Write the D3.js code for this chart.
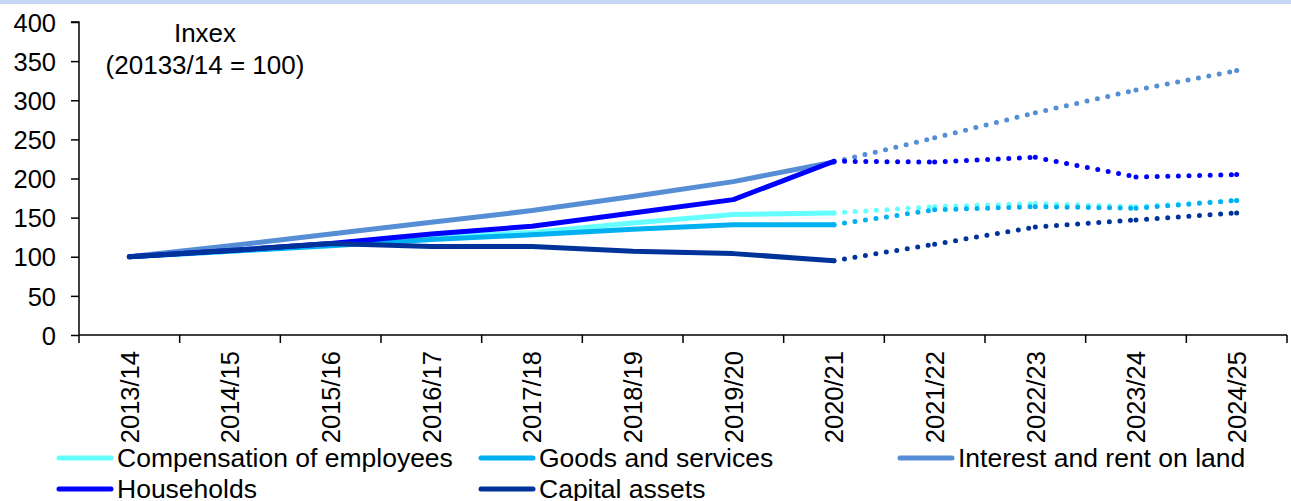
<!DOCTYPE html>
<html><head><meta charset="utf-8">
<script src="https://cdn.jsdelivr.net/npm/d3@7"></script>
<style>
html,body{margin:0;padding:0;background:#fff;}
svg{display:block;font-family:"Liberation Sans",Arial,sans-serif;}
</style></head>
<body><svg id="chart" width="1291" height="501"></svg>
<script>
const categories = ["2013/14","2014/15","2015/16","2016/17","2017/18","2018/19","2019/20","2020/21","2021/22","2022/23","2023/24","2024/25"];
const yTicks = [0,50,100,150,200,250,300,350,400];
const lastActualIndex = 7;
const compensation = [100,107,115,125,131,143,154,156,164,168,164,172];
const goodsServices = [100,107,114,122,128,135,141,141,160,164,162,172];
const interestRent = [100,114,129,144,159,177,196,221,252,284,313,338];
const households = [100,108,117,129,139,156,173,222,221,227,202,205];
const capitalAssets = [100,108,117,113,113,107,104,95,116,138,147,156];
const seriesNames = ["Compensation of employees","Goods and services","Interest and rent on land","Households","Capital assets"];
const seriesColors = ["#66FFFF","#00B0F0","#558ED5","#0000FF","#003399"];
const seriesValues = [compensation, goodsServices, interestRent, households, capitalAssets];
const annotation = ["Inxex","(20133/14 = 100)"];

const svg = d3.select("#chart");
svg.append("rect").attr("x",0).attr("y",0).attr("width",1291).attr("height",4).attr("fill","#c6d6f4");

const x = d3.scaleBand().domain(categories).range([79,1287]).paddingInner(0).paddingOuter(0);
const y = d3.scaleLinear().domain([0,400]).range([335,22]);
const cx = c => x(c) + x.bandwidth()/2;

// Y axis
const yAxis = d3.axisLeft(y).tickValues(yTicks).tickSize(8).tickPadding(15);
const gy = svg.append("g").attr("transform","translate(79,0)").call(yAxis);
gy.select(".domain").attr("stroke","#000").attr("stroke-width",1.5).attr("d","M-8,22H0V335");
gy.selectAll(".tick line").attr("stroke","#000").attr("stroke-width",1.5);
gy.selectAll(".tick text").attr("fill","#000").style("font-size","25.5px").attr("dy","0.36em");

// X axis: line with tick marks at category boundaries
const gx = svg.append("g").attr("transform","translate(0,335)");
gx.append("line").attr("x1",79).attr("x2",1287).attr("y1",0).attr("y2",0).attr("stroke","#000").attr("stroke-width",1.5);
const bounds = categories.map(c => x(c)).concat([x.range()[1]]);
gx.selectAll("line.tk").data(bounds).join("line").attr("class","tk")
  .attr("x1",d=>d).attr("x2",d=>d).attr("y1",0).attr("y2",8).attr("stroke","#000").attr("stroke-width",1.5);
gx.selectAll("text.lbl").data(categories).join("text").attr("class","lbl")
  .attr("transform",d=>`translate(${cx(d)},16) rotate(-90)`)
  .attr("text-anchor","end").attr("dy","0.36em").style("font-size","25.5px").attr("fill","#000").text(d=>d);

// Lines
const line = d3.line().x(d=>cx(d.c)).y(d=>y(d.v));
seriesValues.forEach((vals,i)=>{
  const pts = vals.map((v,j)=>({c:categories[j],v}));
  svg.append("path").datum(pts.slice(0,lastActualIndex+1)).attr("d",line)
    .attr("fill","none").attr("stroke",seriesColors[i]).attr("stroke-width",5)
    .attr("stroke-linejoin","round").attr("stroke-linecap","round");
  for(let j=lastActualIndex;j<vals.length-1;j++){
    svg.append("path").datum([pts[j],pts[j+1]]).attr("d",line)
      .attr("fill","none").attr("stroke",seriesColors[i]).attr("stroke-width",5)
      .attr("stroke-linecap","round").attr("stroke-dasharray","0 10.6")
      .attr("stroke-dashoffset", j===lastActualIndex ? -10.6 : 0);
  }
  const last = pts[vals.length-1];
  svg.append("circle").attr("cx",cx(last.c)).attr("cy",y(last.v)).attr("r",2.5).attr("fill",seriesColors[i]);
});

// Annotation
svg.append("text").attr("x",205).attr("y",42).attr("text-anchor","middle").style("font-size","26px").text(annotation[0]);
svg.append("text").attr("x",205).attr("y",74).attr("text-anchor","middle").style("font-size","26px").text(annotation[1]);

// Legend
const legendPos = [[57,458],[479,458],[898,458],[57,489],[479,489]];
seriesNames.forEach((n,i)=>{
  const [lx,ly] = legendPos[i];
  svg.append("line").attr("x1",lx+2).attr("x2",lx+54).attr("y1",ly).attr("y2",ly)
    .attr("stroke",seriesColors[i]).attr("stroke-width",5).attr("stroke-linecap","round");
  svg.append("text").attr("x",lx+60).attr("y",ly+9).style("font-size","26.5px").attr("fill","#000").text(n);
});
</script></body></html>
